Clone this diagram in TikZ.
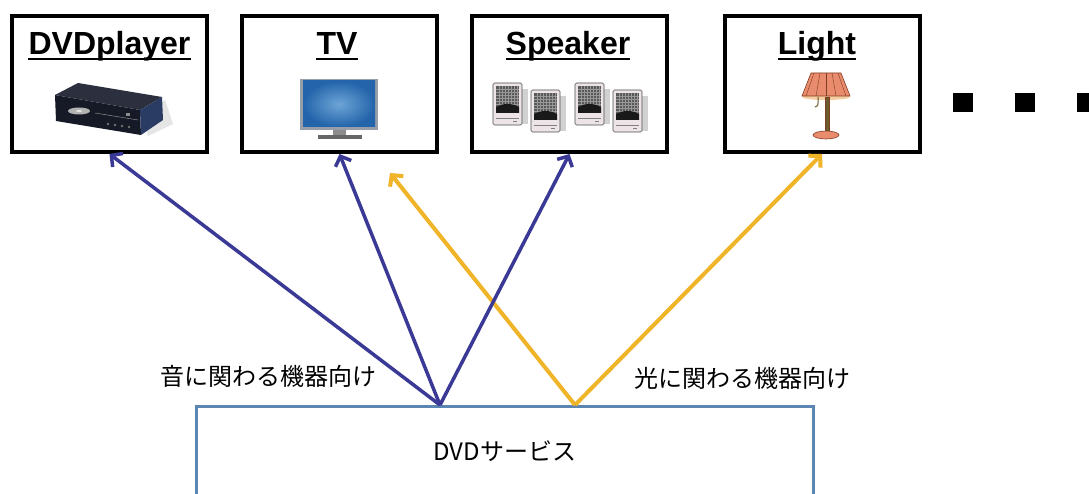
\documentclass[tikz,border=0pt]{standalone}
\usepackage{fontspec}
\setmainfont{Liberation Sans}
\newfontfamily\jpfont{Noto Sans CJK JP}
\usetikzlibrary{arrows.meta}

\definecolor{sndblue}{RGB}{58,58,150}
\definecolor{lgtyellow}{RGB}{240,180,40}
\definecolor{svcblue}{RGB}{91,134,180}
\definecolor{dvdtop}{RGB}{44,48,62}
\definecolor{dvdfront}{RGB}{22,26,38}
\definecolor{dvdside}{RGB}{42,60,100}
\definecolor{tvframe}{RGB}{150,158,170}
\definecolor{tvlight}{RGB}{110,165,215}
\definecolor{tvdark}{RGB}{35,100,170}
\definecolor{spkbody}{RGB}{236,228,230}
\definecolor{lampshade}{RGB}{233,140,110}
\definecolor{lampinner}{RGB}{245,205,160}
\definecolor{lampdark}{RGB}{130,60,35}
\definecolor{lamppole}{RGB}{105,92,45}

\tikzset{
  devbox/.style={draw=black, line width=4pt, minimum width=195pt,
    minimum height=136pt, inner sep=0pt},
  devtitle/.style={font=\fontsize{32}{36}\selectfont\bfseries,
    inner sep=0pt, anchor=base},
  titleline/.style={line width=2pt},
  sndarrow/.style={draw=sndblue, line width=3.5pt,
    -{Straight Barb[length=8pt,width=17pt]}},
  lgtarrow/.style={draw=lgtyellow, line width=4pt,
    -{Straight Barb[length=8pt,width=17pt]}},
  jplabel/.style={font=\jpfont\fontsize{24}{28}\selectfont, inner sep=0pt},
  dotsquare/.style={fill=black},
  % one loudspeaker cabinet, drawn from its top left corner
  spkunit/.pic={
    \fill[black!18] (28,6) rectangle (35,41);
    \filldraw[draw=black!70, fill=spkbody, line width=0.6pt,
      rounded corners=1.5pt] (0,0) rectangle (29,42);
    \fill[black!65] (3,3) rectangle (26,30);
    \foreach \g in {6,9,...,24}
      \draw[black!40, line width=0.4pt] (\g,3) -- (\g,27);
    \foreach \g in {6,9,...,24}
      \draw[black!40, line width=0.4pt] (3,\g) -- (26,\g);
    \fill[black!90] (3,24) .. controls (10,20) and (19,20) .. (26,24)
      -- (26,30) -- (3,30) -- cycle;
    \draw[black!50, line width=0.5pt] (3,35) -- (26,35);
    \fill[black!50] (20,38) rectangle (24,39.5);
  }
}

\begin{document}
\begin{tikzpicture}[x=1pt, y=-1pt]
\clip (0,0) rectangle (1089,494);
\fill[white] (0,0) rectangle (1089,494);

% device boxes
\node[devbox] (dvd) at (109.5,84) {};
\node[devbox] (tv)  at (339.5,84) {};
\node[devbox] (spk) at (569.5,84) {};
\node[devbox] (lgt) at (822,84) {};

% titles with underlines
\node[devtitle] (dvdT) at (109.5,55) {DVDplayer};
\node[devtitle] (tvT)  at (337,55) {TV};
\node[devtitle] (spkT) at (568,55) {Speaker};
\node[devtitle] (lgtT) at (817,55) {Light};
\foreach \t in {dvdT,tvT,spkT,lgtT}
  \draw[titleline] ([yshift=-4pt]\t.base west) -- ([yshift=-4pt]\t.base east);

% DVD player
\fill[black!10] (140,112) -- (165,100) -- (173,124) -- (148,136) -- cycle;
\fill[dvdfront] (55,95) -- (140,110) -- (141,135) -- (56,121) -- cycle;
\fill[dvdtop] (55,95) -- (78,83) -- (162,97) -- (140,110) -- cycle;
\fill[dvdside] (140,110) -- (162,97) -- (163,120) -- (141,135) -- cycle;
\fill[black!30] (79,111) ellipse (11 and 3.5);
\fill[black!10] (79,111) ellipse (3 and 1);
\draw[black!45, line width=0.5pt] (95,113) -- (138,120);
\foreach \b in {0,1,2,3}
  \fill[black!55] (108+7*\b,124+\b) circle (1.3);
\fill[black!45] (126,113) rectangle (130,116);

% television
\fill[tvframe] (300,79) rectangle (378,130);
\shade[inner color=tvlight, outer color=tvdark] (303,81) rectangle (375,127);
\fill[black!45] (333,130) rectangle (346,135);
\fill[black!60] (318,135) rectangle (362,139);

% speakers
\pic at (493,83) {spkunit};
\pic at (531,90) {spkunit};
\pic at (575,83) {spkunit};
\pic at (613,90) {spkunit};

% lamp
\fill[lampinner] (826,97) ellipse (24 and 3);
\filldraw[fill=lampshade, draw=lampdark, line width=0.6pt]
  (811,73) -- (841,73) -- (850,96) -- (802,96) -- cycle;
\foreach \p in {0,1,2,3,4}
  \draw[lampdark, line width=0.4pt] (814+6*\p,73) -- (806+10*\p,96);
\filldraw[fill=lamppole, draw=lampdark, line width=0.4pt] (825,97) rectangle (829,132);
\draw[lamppole, line width=1pt] (818,97) -- (818,103) .. controls (818,106) .. (815,107);
\filldraw[fill=lampshade, draw=lampdark, line width=0.6pt] (826,135) ellipse (13 and 4);

% continuation marks
\fill[dotsquare] (953,93) rectangle (973,112);
\fill[dotsquare] (1015,93) rectangle (1035,112);
\fill[dotsquare] (1077,93) rectangle (1097,112);

% service box (open at the bottom)
\node[draw=svcblue, line width=3pt, minimum width=617pt, minimum height=120pt,
  anchor=north, inner sep=0pt] (svc) at (505,405) {};
\node[font=\jpfont\fontsize{24}{28}\selectfont, inner sep=0pt] (svcT) at (505,451) {DVDサービス};

\coordinate (sndsrc) at ([xshift=-65pt]svc.north);
\coordinate (lgtsrc) at ([xshift=70pt]svc.north);
\coordinate (tvlgt) at (390,173);

% connectors
\draw[lgtarrow] (lgtsrc) -- (tvlgt);
\draw[lgtarrow] (lgtsrc) -- (lgt.south);
\draw[sndarrow] (sndsrc) -- (dvd.south);
\draw[sndarrow] (sndsrc) -- (tv.south);
\draw[sndarrow] (sndsrc) -- (spk.south);

% group labels
\node[jplabel] (sndlbl) at (268,376) {音に関わる機器向け};
\node[jplabel] (lgtlbl) at (742,378) {光に関わる機器向け};
\end{tikzpicture}
\end{document}
